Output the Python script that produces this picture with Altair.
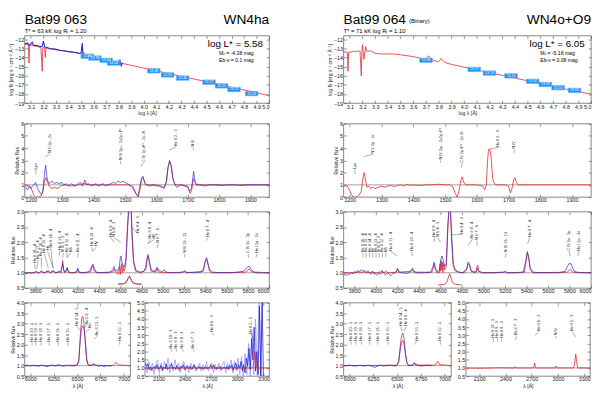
import altair as alt
import pandas as pd

FONT = "Liberation Sans"
RED = "#e8262d"
BLUE = "#2626c8"
LBLUE = "#8c8cff"
BOXC = "#1f8ff0"
INK = "#222222"

# ======================= Bat99 063 =======================
sed63_model = [(3.05,-12.5),(3.07,-12.55),(3.08,-12.6),(3.085,-14.6),(3.09,-12.6),(3.1,-12.65),(3.12,-12.7),
               (3.15,-12.8),(3.18,-12.88),(3.19,-15.5),(3.195,-12.9),(3.2,-12.9),(3.21,-12.95),(3.215,-14.0),
               (3.22,-12.95),(3.23,-13.0),(3.25,-13.05),(3.3,-13.15),(3.35,-13.25),(3.4,-13.35),(3.45,-13.45),
               (3.5,-13.58),(3.55,-13.75),(3.6,-13.92),(3.65,-14.08),(3.7,-14.25),(3.75,-14.4),(3.8,-14.55),
               (3.85,-14.7),(3.9,-14.85),(4.0,-15.15),(4.1,-15.45),(4.2,-15.75),(4.3,-16.05),(4.4,-16.35),
               (4.5,-16.65),(4.6,-16.95),(4.7,-17.25),(4.8,-17.55),(4.9,-17.85),(5.0,-18.2)]
sed63_obs = [(3.05,-12.45),(3.06,-12.5),(3.07,-12.4),(3.08,-12.55),(3.09,-12.6),(3.1,-12.5),(3.11,-12.3),
             (3.12,-12.6),(3.13,-12.7),(3.15,-12.65),(3.17,-12.8),(3.19,-12.75),(3.2,-12.2),(3.21,-12.85),
             (3.23,-12.9),(3.25,-13.0),(3.28,-13.05),(3.3,-13.1),(3.33,-13.2),(3.36,-13.25),(3.4,-13.35),
             (3.43,-13.4),(3.46,-13.45),(3.49,-13.55),(3.5,-13.5),(3.51,-12.4),(3.515,-13.7),(3.52,-13.5),
             (3.53,-13.7),(3.55,-13.8),(3.57,-13.9),(3.6,-14.0),(3.62,-14.05),(3.64,-14.15),(3.66,-14.2),
             (3.68,-14.3),(3.7,-14.3),(3.72,-14.4),(3.74,-14.45),(3.76,-14.55),(3.78,-14.55),(3.8,-14.65),
             (3.81,-14.3),(3.82,-14.9),(3.83,-14.6)]
sed63_phot_logl = [3.55, 3.61, 3.70, 3.76, 4.08, 4.19, 4.31, 4.52, 4.62, 4.72, 4.86]
sed63_phot_flux = [-13.85, -14.05, -14.3, -14.6, -15.45, -15.9, -16.25, -16.7, -17.1, -17.5, -17.95]
sed63_phot_text = ["13.66", "13.78", "13.93", "14.04", "13.49", "13.53", "13.40", "13.21", "13.25", "13.23", "13.18"]

uv63_model = [(1180,1.0),(1195,0.9),(1205,0.5),(1210,0.1),(1215,0.0),(1225,0.0),(1232,0.1),(1238,0.4),(1243,1.2),
              (1247,1.6),(1252,1.3),(1258,0.9),(1265,0.7),(1275,0.8),(1285,0.7),(1295,0.9),(1310,1.0),(1330,0.9),
              (1350,1.0),(1370,1.1),(1390,1.0),(1420,1.0),(1450,1.0),(1480,1.0),(1510,1.0),(1525,0.9),(1535,0.3),
              (1542,0.0),(1548,0.6),(1553,1.5),(1558,1.6),(1565,1.0),(1575,1.0),(1600,1.0),(1615,0.9),(1625,0.7),
              (1632,1.2),(1638,2.5),(1643,2.9),(1648,2.5),(1654,1.4),(1660,1.0),(1680,1.0),(1700,0.9),(1708,0.3),
              (1713,0.6),(1718,1.5),(1722,1.3),(1728,1.0),(1760,1.0),(1800,1.0),(1850,1.0),(1900,1.0),(1960,1.0)]
uv63_obs = [(1180,0.8),(1190,0.6),(1195,0.9),(1200,0.7),(1205,0.9),(1210,1.0),(1215,1.2),(1220,0.8),(1228,0.4),
            (1234,0.2),(1238,0.5),(1243,1.8),(1247,2.6),(1252,1.5),(1257,1.1),(1262,1.2),(1268,1.3),(1275,1.1),
            (1282,1.2),(1290,1.1),(1298,1.2),(1305,1.0),(1312,1.1),(1320,0.9),(1328,1.1),(1335,1.0),(1342,0.9),
            (1350,1.1),(1358,1.2),(1365,0.9),(1372,1.4),(1378,1.0),(1385,1.1),(1392,0.9),(1400,1.0),(1408,1.1),
            (1415,0.9),(1422,1.0),(1430,1.1),(1438,0.9),(1446,1.0),(1455,1.1),(1463,1.2),(1470,1.1),(1478,1.3),
            (1486,1.2),(1494,1.3),(1500,1.2),(1508,1.1),(1515,1.0),(1522,0.8),(1530,0.5),(1537,0.2),(1542,0.1),
            (1547,0.8),(1553,1.5),(1557,1.7),(1563,1.2),(1570,1.0),(1580,0.9),(1590,1.0),(1600,0.9),(1610,0.9),
            (1618,0.8),(1625,0.8),(1632,1.3),(1637,2.4),(1642,3.0),(1647,2.6),(1652,1.6),(1658,1.1),(1665,0.8),
            (1672,0.9),(1680,1.0),(1690,0.9),(1700,0.8),(1706,0.5),(1711,0.6),(1716,1.4),(1719,2.1),(1723,1.3),
            (1728,1.0),(1740,1.0),(1755,0.9),(1770,1.0),(1790,1.0),(1810,0.95),(1830,1.0),(1850,1.0),(1870,0.95),
            (1890,1.0),(1910,1.0),(1930,1.0),(1960,1.0)]
uv63_labels = [(1216,1216,1.85,2.2,"Lyα"),(1245,1262,3.3,3.55,"N V 2p - 2s"),
               (1486,1486,2.7,2.95,"N IV 2p² - 2s2p ¹P°"),(1550,1560,2.5,2.8,"C IV 2p ²P° - 2s ²S"),
               (1642,1662,3.85,4.1,"He II 2 - 3"),(1718,1718,3.85,4.05,"N IV")]

opt63_model = [(3700,1.0),(3800,1.0),(3813,1.03),(3830,1.0),(3858,1.04),(3880,1.0),(3923,1.05),(3940,1.0),(3968,1.05),
               (3990,1.0),(4026,1.03),(4040,1.0),(4052,1.2),(4058,1.4),(4066,1.1),(4080,1.0),(4100,1.15),(4112,1.0),
               (4190,1.02),(4200,1.1),(4212,1.0),(4320,1.03),(4340,1.25),(4355,1.05),(4375,1.0),(4530,1.03),(4542,1.12),
               (4555,1.02),(4585,0.95),(4595,1.2),(4602,0.95),(4610,1.3),(4618,1.0),(4626,1.25),(4635,1.05),(4650,1.2),
               (4665,2.4),(4680,3.2),(4700,3.2),(4712,2.1),(4725,1.3),(4745,1.05),(4800,1.0),(4840,1.1),(4852,1.45),
               (4862,1.55),(4875,1.3),(4890,1.05),(4935,1.03),(4945,1.15),(4957,1.03),(5000,1.0),(5195,1.02),(5205,1.05),
               (5215,1.0),(5380,1.05),(5400,1.4),(5412,1.45),(5425,1.25),(5440,1.05),(5460,1.0),(5780,1.02),(5800,1.1),
               (5815,1.12),(5830,1.03),(6000,1.0)]
opt63_obs = [(3700,1.0),(3720,0.97),(3740,1.02),(3760,0.98),(3780,1.0),(3800,1.03),(3813,1.05),(3830,0.98),(3858,1.06),
             (3880,1.0),(3900,1.03),(3923,1.07),(3940,1.0),(3968,1.08),(3990,1.0),(4010,1.02),(4026,1.05),(4040,1.02),
             (4058,1.3),(4070,1.05),(4085,1.02),(4100,1.18),(4115,1.03),(4140,1.0),(4170,1.0),(4190,1.05),(4200,1.15),
             (4212,1.03),(4240,1.0),(4280,1.0),(4310,1.05),(4330,1.2),(4342,1.28),(4355,1.15),(4375,1.02),(4420,1.0),
             (4480,1.0),(4510,1.03),(4530,1.12),(4542,1.2),(4555,1.08),(4575,1.05),(4590,1.2),(4600,1.5),(4606,1.55),
             (4615,1.35),(4625,1.25),(4640,1.2),(4655,1.5),(4668,2.4),(4680,3.2),(4700,3.2),(4712,2.2),(4725,1.4),
             (4745,1.1),(4780,1.02),(4820,1.05),(4840,1.2),(4852,1.5),(4862,1.6),(4875,1.35),(4890,1.1),(4910,1.05),
             (4930,1.08),(4945,1.18),(4960,1.1),(4980,1.05),(5000,1.05),(5012,1.1),(5025,1.03),(5080,1.0),(5150,1.0),
             (5190,1.03),(5205,1.07),(5220,1.02),(5300,1.0),(5360,1.02),(5385,1.15),(5400,1.42),(5412,1.5),(5425,1.3),
             (5440,1.1),(5470,1.02),(5550,1.0),(5650,1.0),(5700,1.02),(5760,1.05),(5785,1.15),(5800,1.2),(5815,1.2),
             (5830,1.12),(5850,1.03),(5880,1.0),(5920,1.0),(6000,1.0)]
opt63_inset_model = [(4580,0.62),(4630,0.63),(4655,0.67),(4672,0.8),(4686,0.9),(4700,0.8),(4716,0.67),(4750,0.63),(4800,0.62)]
opt63_inset_obs = [(4580,0.64),(4630,0.65),(4655,0.7),(4672,0.82),(4686,0.88),(4700,0.78),(4716,0.68),(4750,0.64),(4800,0.63)]
opt63_labels = [(3797,3796,1.12,1.3,"He II 18 - 4"),(3813,3826,1.12,1.42,"He II 17 - 4"),(3858,3856,1.15,1.52,"He II 16 - 4"),
                (3923,3886,1.15,1.62,"He II 15 - 4"),(3968,3916,1.15,1.72,"Hε"),(3968,3946,1.15,1.8,"He II 14 - 4"),
                (4026,4029,1.55,1.72,"He II 13 - 4"),(4058,4065,1.5,1.65,"N IV 3 - 3"),(4100,4098,1.5,1.65,"He II 12 - 4"),
                (4101,4134,1.5,1.65,"Hδ"),(4200,4204,1.5,1.65,"He II 11 - 4"),(4339,4331,1.7,1.85,"He II 10 - 4"),
                (4340,4376,1.7,1.85,"Hγ"),(4542,4512,2.0,2.15,"He II 9 - 4"),(4604,4542,2.0,2.15,"N V 4 - 3"),
                (4705,4768,2.5,2.28,"He II 4 - 3"),(4859,4883,1.95,2.1,"He II 8 - 4"),(4861,4920,1.95,2.1,"Hβ"),
                (4945,4956,1.8,1.95,"N V 7 - 6"),(5204,5207,1.5,1.62,"N IV 16 - 13"),(5411,5421,2.05,2.15,"He II 7 - 4"),
                (5806,5802,1.5,1.62,"C IV 3s - 3p"),(5876,5886,1.5,1.62,"He I 2p - 3d")]

ha63_model = [(5940,1.0),(6400,1.0),(6420,1.02),(6500,1.02),(6520,1.2),(6535,2.4),(6550,3.25),(6562,3.35),(6575,3.0),
              (6590,2.0),(6605,1.2),(6620,1.02),(6670,1.02),(6683,1.08),(6695,1.02),(6880,1.0),(6900,1.05),(6915,1.15),
              (6930,1.1),(6945,1.03),(7070,1.0)]
ha63_obs = [(5940,1.0),(5970,1.02),(6000,0.98),(6030,1.02),(6060,1.0),(6090,0.97),(6120,1.03),(6150,1.0),(6180,0.95),
            (6210,1.0),(6240,1.03),(6270,0.98),(6300,1.05),(6330,1.0),(6360,0.97),(6390,1.02),(6420,1.0),(6450,0.98),
            (6480,1.0),(6505,1.05),(6520,1.3),(6535,2.2),(6548,2.75),(6560,2.9),(6575,2.8),(6590,2.2),(6602,1.4),
            (6615,1.1),(6630,1.0),(6660,1.02),(6683,1.1),(6700,1.02),(6730,0.97),(6760,1.0),(6790,0.95),(6820,1.0),
            (6850,0.98),(6870,1.0)]
ha63_labels = [(6020,6020,1.95,2.1,"He II 20 - 5"),(6060,6060,1.95,2.1,"He II 19 - 5"),(6115,6115,1.95,2.1,"He II 18 - 5"),
               (6205,6205,1.95,2.1,"He II 17 - 5"),(6300,6300,1.95,2.1,"He II 16 - 5"),(6405,6405,1.95,2.1,"He II 15 - 5"),
               (6527,6505,2.7,2.85,"He II 14 - 5"),(6575,6605,2.8,2.92,"He II 6 - 4"),(6590,6640,2.6,2.75,"Hα"),
               (6683,6712,2.25,2.4,"He II 13 - 5"),(6957,6957,2.0,2.15,"He II 12 - 5")]

ir63_model = [(1946,1.0),(2500,1.0),(2511,1.05),(2520,1.0),(2720,1.0),(2733,1.2),(2745,1.0),(3180,1.0),(3195,1.6),
              (3203,2.0),(3212,1.5),(3225,1.0),(3366,1.0)]
ir63_obs_start, ir63_obs_step = 1950, 15
ir63_obs = [1.3,1.1,1.25,0.9,1.05,0.85,1.0,1.1,0.95,1.2, 0.9,1.0,1.15,0.85,1.05,0.95,1.25,0.9,1.0,1.1,
            1.3,0.95,1.05,0.9,1.15,1.0,0.85,1.1,1.0,1.2, 0.9,1.05,1.15,0.95,1.1,0.9,1.0,1.2,1.05,0.9,
            1.0,1.1,0.95,1.05,0.9,1.0,1.1,0.95,1.0,1.05, 1.2,0.95,1.15,1.0,0.9,1.05,0.95,1.1,0.9,1.0,
            1.05,0.95,1.1,0.9,1.15,1.0,1.2,0.85,1.1,1.3, 0.9,1.2,1.0,1.4,0.8,1.2,0.7,1.6,1.1,2.2,
            0.9,2.8,1.5,3.5,0.8,2.0,0.6,4.8,0.5,5.2, 0.5]
ir63_raw_start, ir63_raw_step = 1950, 20
ir63_raw = [1.6,0.7,1.4,0.8,1.3,0.6,1.2,1.5,0.7,1.3,0.8,1.4,0.9,1.6,0.7,1.2,0.8,1.5,0.9,1.3,0.7,1.2,1.4,0.8,
            1.1,0.7,1.3,0.9,1.2,0.8,1.1,1.3,0.8,1.2,0.9,1.4,0.8,1.1,1.3,0.7,1.2,0.9,1.3,0.8,1.2,1.4,0.7,1.3,
            0.9,1.5,0.7,1.4,0.8,1.6,0.6,1.7,0.5,1.9,0.6,2.5,0.5,3.2,0.6,4.0,0.5,5.5,0.5,5.5]
ir63_labels = [(2253,2249,2.0,2.15,"He II 10 - 3"),(2306,2305,2.0,2.15,"He II 9 - 3"),(2385,2371,2.0,2.15,"He II 8 - 3"),
               (2511,2493,2.0,2.15,"He II 7 - 3"),(2733,2715,3.0,3.15,"He II 6 - 3"),(3203,3160,2.7,3.05,"He II 5 - 3")]

# ======================= Bat99 064 =======================
sed64_model = [(3.05,-13.4),(3.07,-13.4),(3.08,-13.45),(3.085,-15.5),(3.09,-13.45),(3.1,-13.4),(3.12,-13.35),
               (3.15,-13.3),(3.18,-13.3),(3.19,-16.0),(3.195,-13.25),(3.2,-12.6),(3.205,-13.3),(3.21,-14.2),
               (3.22,-13.25),(3.225,-12.8),(3.23,-13.3),(3.25,-13.3),(3.27,-13.3),(3.29,-13.45),(3.3,-13.55),
               (3.35,-13.6),(3.4,-13.6),(3.45,-13.62),(3.5,-13.7),(3.55,-13.8),(3.6,-13.9),(3.65,-14.05),(3.7,-14.2),
               (3.72,-13.8),(3.75,-14.3),(3.8,-14.45),(3.82,-14.1),(3.85,-14.55),(3.9,-14.75),(4.0,-15.05),
               (4.1,-15.35),(4.2,-15.65),(4.3,-15.95),(4.4,-16.25),(4.5,-16.55),(4.6,-16.85),(4.7,-17.15),
               (4.8,-17.45),(4.9,-17.75),(5.0,-18.0)]
sed64_phot_logl = [3.70, 4.08, 4.20, 4.37, 4.54, 4.64, 4.74, 4.87]
sed64_phot_flux = [-14.3, -15.3, -15.7, -16.0, -16.6, -16.95, -17.3, -17.6]
sed64_phot_text = ["12.94", "13.12", "13.19", "13.24", "13.32", "13.16", "13.10", "13.05"]

uv64_model = [(1180,1.0),(1192,0.9),(1198,0.6),(1205,0.2),(1210,0.0),(1222,0.0),(1230,0.2),(1236,0.5),(1241,1.5),
              (1245,2.0),(1249,1.4),(1254,0.8),(1260,0.9),(1265,0.7),(1272,0.8),(1280,0.7),(1290,0.8),(1300,0.9),
              (1310,0.8),(1320,0.9),(1330,0.95),(1340,0.85),(1350,0.95),(1360,1.0),(1370,0.9),(1380,1.05),(1390,0.95),
              (1400,1.0),(1420,0.95),(1440,1.0),(1460,1.0),(1480,1.05),(1500,1.0),(1515,1.0),(1525,0.8),(1532,0.3),
              (1538,0.0),(1544,0.5),(1550,1.4),(1554,1.65),(1559,1.2),(1565,1.0),(1600,1.0),(1618,0.9),(1625,0.6),
              (1630,1.0),(1634,3.0),(1637,3.9),(1642,3.9),(1646,3.0),(1650,1.5),(1655,1.1),(1662,1.0),(1690,1.0),
              (1700,0.9),(1706,0.35),(1711,0.7),(1716,1.4),(1720,1.6),(1725,1.2),(1730,1.0),(1800,1.0),(1900,1.0),
              (1960,1.0)]
uv64_labels = [(1216,1216,1.9,2.25,"Lyα"),(1243,1272,3.3,3.5,"N V 2p - 2s"),(1486,1486,2.8,3.0,"N IV 2p² - 2s2p ¹P°"),
               (1550,1555,2.4,2.75,"C IV 2p ²P° - 2s ²S"),(1642,1668,3.95,4.05,"He II 2 - 3"),(1718,1718,3.6,3.9,"N IV")]

opt64_model = [(3700,1.0),(3800,1.0),(3835,1.03),(3860,1.0),(3890,1.03),(3920,1.0),(3970,1.03),(4000,1.0),(4045,1.03),
               (4058,1.08),(4070,1.0),(4100,1.05),(4115,1.0),(4190,1.02),(4200,1.15),(4212,1.02),(4330,1.05),(4340,1.12),
               (4352,1.02),(4520,1.02),(4535,1.15),(4542,1.28),(4550,1.15),(4565,1.02),(4590,1.0),(4598,1.3),(4603,1.05),
               (4608,1.4),(4613,1.1),(4618,1.35),(4623,1.0),(4630,1.3),(4640,1.1),(4655,1.2),(4670,2.5),(4682,3.2),
               (4692,3.2),(4705,2.0),(4720,1.2),(4740,1.05),(4800,1.0),(4845,1.1),(4858,1.3),(4870,1.25),(4885,1.05),
               (4930,1.02),(4940,1.2),(4948,1.25),(4955,1.05),(5000,1.0),(5195,1.02),(5205,1.04),(5215,1.0),(5380,1.02),
               (5395,1.35),(5408,1.65),(5420,1.5),(5435,1.1),(5460,1.0),(5780,1.02),(5800,1.1),(5815,1.1),(5830,1.02),
               (6000,1.0)]
opt64_obs = [(3700,0.92),(3715,0.95),(3730,0.9),(3745,0.97),(3760,0.95),(3775,1.0),(3790,0.97),(3805,1.05),(3820,1.0),
             (3835,1.08),(3850,1.02),(3865,1.1),(3880,1.05),(3895,1.08),(3910,1.0),(3925,1.07),(3940,1.0),(3955,0.95),
             (3970,1.05),(3985,0.95),(4000,0.98),(4015,0.92),(4030,1.0),(4045,0.95),(4060,1.05),(4075,0.98),(4090,0.93),
             (4105,1.0),(4120,0.97),(4140,0.9),(4160,0.98),(4180,1.0),(4195,1.08),(4205,1.12),(4215,1.03),(4240,1.0),
             (4280,0.98),(4310,1.0),(4330,1.1),(4342,1.15),(4355,1.05),(4380,1.0),(4450,1.0),(4510,1.02),(4530,1.2),
             (4542,1.35),(4555,1.15),(4575,1.02),(4590,1.1),(4605,1.45),(4615,1.55),(4625,1.45),(4640,1.2),(4655,1.3),
             (4670,2.6),(4682,3.2),(4692,3.2),(4705,2.2),(4720,1.3),(4740,1.1),(4770,1.02),(4820,1.0),(4845,1.15),
             (4858,1.35),(4870,1.3),(4885,1.1),(4910,1.0),(4935,1.05),(4945,1.15),(4955,1.05),(4990,1.0),(5100,1.0),
             (5190,1.02),(5205,1.05),(5220,1.0),(5300,1.0),(5370,1.02),(5395,1.4),(5408,1.7),(5420,1.55),(5435,1.15),
             (5460,1.02),(5550,1.0),(5700,1.0),(5760,1.05),(5780,1.2),(5795,1.3),(5815,1.3),(5830,1.15),(5850,1.03),
             (5900,1.0),(6000,1.0)]
opt64_inset_model = [(4580,0.6),(4640,0.62),(4660,0.7),(4675,0.85),(4686,0.97),(4698,0.85),(4712,0.68),(4740,0.62),(4800,0.6)]
opt64_labels = [(3881,3881,1.5,1.65,"He II 16 - 4"),(3911,3911,1.5,1.65,"He II 15 - 4"),(3942,3942,1.5,1.65,"He II 14 - 4"),
                (3972,3972,1.5,1.65,"Hε"),(4002,4002,1.5,1.65,"He II 13 - 4"),(4032,4032,1.5,1.65,"N IV 3 - 3"),
                (4062,4062,1.5,1.65,"He II 12 - 4"),(4092,4092,1.5,1.65,"Hδ"),(4200,4138,1.55,1.7,"He II 11 - 4"),
                (4339,4334,1.55,1.7,"He II 10 - 4"),(4542,4545,2.0,2.15,"He II 9 - 4"),(4604,4575,2.0,2.15,"N V 4 - 3"),
                (4700,4801,2.25,2.25,"He II 4 - 3"),(4859,4898,1.9,2.1,"He II 8 - 4"),(4945,4937,1.9,2.05,"N V 7 - 6"),
                (5204,5209,1.5,1.65,"N IV 16 - 13"),(5411,5429,1.95,2.15,"He II 7 - 4"),(5806,5797,1.55,1.7,"C IV 3s - 3p"),
                (5876,5888,1.55,1.7,"He I 2p - 3d")]

ha64_model = [(5940,1.0),(6500,1.02),(6520,1.2),(6535,1.9),(6550,2.45),(6562,2.55),(6575,2.3),(6590,1.6),(6605,1.15),
              (6620,1.02),(6670,1.03),(6685,1.12),(6700,1.03),(6900,1.02),(6915,1.12),(6930,1.2),(6945,1.05),(7070,1.0)]
ha64_obs = [(5940,1.02),(5970,1.0),(6000,1.03),(6030,1.0),(6060,0.98),(6090,1.0),(6120,1.02),(6150,0.97),(6180,1.0),
            (6210,1.02),(6240,0.96),(6270,0.92),(6300,0.98),(6330,1.02),(6360,0.98),(6390,1.0),(6420,1.02),(6450,1.0),
            (6480,0.98),(6505,1.05),(6520,1.2),(6535,1.75),(6550,2.1),(6562,2.2),(6575,2.05),(6590,1.55),(6605,1.15),
            (6620,1.02),(6650,1.0),(6670,1.05),(6685,1.15),(6700,1.05),(6730,1.0),(6760,0.98),(6790,1.0),(6820,1.02),
            (6850,1.0),(6870,1.0)]
ha64_labels = [(6019,6019,2.0,2.15,"He II 20 - 5"),(6070,6070,2.0,2.15,"He II 19 - 5"),(6128,6128,2.0,2.15,"He II 18 - 5"),
               (6214,6214,2.0,2.15,"He II 17 - 5"),(6300,6300,2.0,2.15,"He II 16 - 5"),(6409,6409,2.0,2.15,"He II 15 - 5"),
               (6555,6540,2.65,2.85,"He II 14 - 5"),(6570,6600,2.65,2.85,"He II 6 - 4"),(6683,6710,2.0,2.15,"He II 13 - 5"),
               (6957,6957,2.0,2.15,"He II 12 - 5")]

ir64_model = [(1946,1.0),(2100,0.98),(2250,1.0),(2300,1.01),(2500,1.0),(2511,1.08),(2520,1.0),(2720,1.0),(2733,1.3),
              (2745,1.0),(2970,1.0),(2980,1.12),(2990,1.0),(3180,1.0),(3195,1.5),(3203,1.85),(3212,1.4),(3225,1.0),(3366,1.0)]
ir64_labels = [(2262,2262,2.6,2.8,"He II 10 - 3"),(2307,2307,2.6,2.8,"He II 9 - 3"),(2356,2356,2.6,2.8,"He II 8 - 3"),
               (2511,2525,2.7,2.95,"He II 7 - 3"),(2733,2780,3.0,3.2,"He II 6 - 3"),(2975,2975,2.8,2.95,"N IV"),
               (3203,3163,2.9,3.2,"He II 5 - 3")]

# axis tick values
sed_xticks = [3.1,3.2,3.3,3.4,3.5,3.6,3.7,3.8,3.9,4.0,4.1,4.2,4.3,4.4,4.5,4.6,4.7,4.8,4.9,5.0]
sed_yticks = [-19,-18,-17,-16,-15,-14,-13,-12]
uv_xticks = [1200,1300,1400,1500,1600,1700,1800,1900]
uv_yticks = [0,1,2,3,4,5,6]
opt_xticks = [3800,4000,4200,4400,4600,4800,5000,5200,5400,5600,5800,6000]
opt_yticks = [0.5,1.0,1.5,2.0,2.5,3.0]
ha_xticks = [6000,6250,6500,6750,7000]
ha_yticks = [0.5,1.0,1.5,2.0,2.5,3.0,3.5,4.0]
ir_xticks = [2100,2400,2700,3000,3300]
ir_yticks = [0.5,1.0,1.5,2.0,2.5,3.0,3.5,4.0,4.5,5.0]


def pairs_df(p):
    return pd.DataFrame({"x": [a for a, _ in p], "y": [b for _, b in p]})


def grid_df(start, step, vals):
    return pd.DataFrame({"x": [start + step * i for i in range(len(vals))], "y": vals})


def L_line(df, color, w=0.8, op=1.0):
    def f(xs, ys):
        return alt.Chart(df).mark_line(color=color, strokeWidth=w, opacity=op, clip=True).encode(
            x=alt.X("x:Q", scale=xs, axis=None), y=alt.Y("y:Q", scale=ys, axis=None))
    return f


def L_hrule(val):
    df = pd.DataFrame({"y": [val]})
    def f(xs, ys):
        return alt.Chart(df).mark_rule(color="#444", strokeWidth=0.5).encode(y=alt.Y("y:Q", scale=ys, axis=None))
    return f


def L_labels(rows, fs=3.9):
    df = pd.DataFrame(rows, columns=["lx", "tx", "y0", "y1", "t"])
    def f(xs, ys):
        lead = alt.Chart(df).mark_rule(color="#333", strokeWidth=0.4).encode(
            x=alt.X("lx:Q", scale=xs, axis=None), y=alt.Y("y0:Q", scale=ys, axis=None), x2="tx:Q", y2="y1:Q")
        txt = alt.Chart(df).mark_text(angle=270, align="left", baseline="middle", fontSize=fs, font=FONT,
                                      color=INK, dx=0.8).encode(
            x=alt.X("tx:Q", scale=xs, axis=None), y=alt.Y("y1:Q", scale=ys, axis=None), text="t:N")
        return alt.layer(lead, txt)
    return f


def L_boxes(logl, flux, texts):
    df = pd.DataFrame({"x": logl, "y": flux, "t": texts})
    def f(xs, ys):
        pts = alt.Chart(df).mark_point(shape="M-1,-0.36L1,-0.36L1,0.36L-1,0.36Z", size=170, filled=True,
                                       fill=BOXC, stroke="#7cc0ff", strokeWidth=0.6, opacity=1).encode(
            x=alt.X("x:Q", scale=xs, axis=None), y=alt.Y("y:Q", scale=ys, axis=None))
        txt = alt.Chart(df).mark_text(fontSize=3.6, color="white", font=FONT).encode(
            x=alt.X("x:Q", scale=xs, axis=None), y=alt.Y("y:Q", scale=ys, axis=None), text="t:N")
        return alt.layer(pts, txt)
    return f


def L_text(x, y, t, fs, align="left"):
    df = pd.DataFrame({"x": [x], "y": [y], "t": [t]})
    def f(xs, ys):
        return alt.Chart(df).mark_text(fontSize=fs, font=FONT, color="black", align=align, baseline="middle").encode(
            x=alt.X("x:Q", scale=xs, axis=None), y=alt.Y("y:Q", scale=ys, axis=None), text="t:N")
    return f


def L_pixtext(px, py, t, fs, align="left"):
    df = pd.DataFrame({"t": [t]})
    def f(xs, ys):
        return alt.Chart(df).mark_text(fontSize=fs, font=FONT, color="black", align=align,
                                       baseline="alphabetic").encode(x=alt.value(px), y=alt.value(py), text="t:N")
    return f


def panel(layers, xdom, ydom, xvals, yvals, w, h, xfmt, yfmt, xtitle=None, ytitle=None):
    xs = alt.Scale(domain=xdom, nice=False, zero=False)
    ys = alt.Scale(domain=ydom, nice=False, zero=False)
    common = dict(offset=-3, tickSize=3, domain=False, grid=False, labelOverlap=False)
    fdf = pd.DataFrame({"x": [xdom[0]], "y": [ydom[0]]})
    frame = alt.Chart(fdf).mark_point(opacity=0).encode(
        x=alt.X("x:Q", scale=xs, axis=alt.Axis(values=xvals, format=xfmt, title=xtitle, **common)),
        y=alt.Y("y:Q", scale=ys, axis=alt.Axis(values=yvals, format=yfmt, title=ytitle, **common)))
    frame2 = alt.Chart(fdf).mark_point(opacity=0).encode(
        x=alt.X("x:Q", scale=xs, axis=alt.Axis(values=xvals, orient="top", labels=False, title=None, **common)),
        y=alt.Y("y:Q", scale=ys, axis=alt.Axis(values=yvals, orient="right", labels=False, title=None, **common)))
    ch = alt.layer(frame, frame2, *[L(xs, ys) for L in layers]).resolve_axis(x="independent", y="independent")
    return ch.properties(width=w, height=h)


W_L, W_R = 250, 253
H_SED, H_UV, H_OPT, H_BOT = 69, 75, 78, 75
YT_SED = "log fλ [erg s⁻¹ cm⁻² Å⁻¹]"

# ---------------- left column ----------------
sed_l = panel([L_line(pairs_df(sed63_model), RED, 0.8), L_line(pairs_df(sed63_obs), BLUE, 1.1),
               L_boxes(sed63_phot_logl, sed63_phot_flux, sed63_phot_text),
               L_text(4.95, -12.55, "log L* = 5.58", 10, "right"),
               L_text(4.6, -13.5, "Mᵥ = -4.38 mag", 5.2), L_text(4.6, -14.3, "Eb-v = 0.1 mag", 5.2),
               L_pixtext(0, -12, "Bat99 063", 14), L_pixtext(0, -3, "T* = 63 kK   log Rₜ = 1.20", 6),
               L_pixtext(W_L, -12, "WN4ha", 14, "right")],
              [3.05, 5.0], [-19, -11.6], sed_xticks, sed_yticks, W_L, H_SED, ".1f", "d",
              xtitle="log λ [Å]", ytitle=YT_SED)
uv_l = panel([L_hrule(1), L_line(pairs_df(uv63_model), RED, 0.8), L_line(pairs_df(uv63_obs), BLUE, 0.8, 0.85),
              L_labels(uv63_labels)],
             [1180, 1960], [0, 6], uv_xticks, uv_yticks, W_L, H_UV, "d", "d", ytitle="Relative flux")
opt_l = panel([L_hrule(1), L_line(pairs_df(opt63_model), RED, 0.8), L_line(pairs_df(opt63_obs), BLUE, 0.8, 0.85),
               L_line(pairs_df(opt63_inset_model), RED, 0.7), L_line(pairs_df(opt63_inset_obs), BLUE, 0.7, 0.85),
               L_labels(opt63_labels)],
              [3700, 6000], [0.5, 3.0], opt_xticks, opt_yticks, W_L, H_OPT, "d", ".1f", ytitle="Relative flux")
ha_l = panel([L_hrule(1), L_line(pairs_df(ha63_model), RED, 0.8), L_line(pairs_df(ha63_obs), BLUE, 0.8, 0.85),
              L_labels(ha63_labels)],
             [5940, 7070], [0.5, 4.0], ha_xticks, ha_yticks, 108, H_BOT, "d", ".1f",
             xtitle="λ [Å]", ytitle="Relative flux")
ir_l = panel([L_line(grid_df(ir63_raw_start, ir63_raw_step, ir63_raw), LBLUE, 0.7),
              L_line(grid_df(ir63_obs_start, ir63_obs_step, ir63_obs), BLUE, 0.8),
              L_hrule(1), L_line(pairs_df(ir63_model), RED, 0.8), L_labels(ir63_labels)],
             [1946, 3366], [0.5, 5.0], ir_xticks, ir_yticks, 127, H_BOT, "d", ".1f", xtitle="λ [Å]")

# ---------------- right column ----------------
sed_r = panel([L_line(pairs_df(sed64_model), RED, 0.8),
               L_boxes(sed64_phot_logl, sed64_phot_flux, sed64_phot_text),
               L_text(4.95, -12.55, "log L* = 6.05", 10, "right"),
               L_text(4.6, -13.5, "Mᵥ = -5.18 mag", 5.2), L_text(4.6, -14.3, "Eb-v = 0.08 mag", 5.2),
               L_pixtext(0, -12, "Bat99 064", 14), L_pixtext(67, -12.5, "(Binary)", 6),
               L_pixtext(0, -3, "T* = 71 kK   log Rₜ = 1.10", 6),
               L_pixtext(W_R, -12, "WN4o+O9", 14, "right")],
              [3.05, 5.0], [-19, -11.6], sed_xticks, sed_yticks, W_R, H_SED, ".1f", "d",
              xtitle="log λ [Å]", ytitle=YT_SED)
uv_r = panel([L_hrule(1), L_line(pairs_df(uv64_model), RED, 0.8), L_labels(uv64_labels)],
             [1180, 1960], [0, 6], uv_xticks, uv_yticks, W_R, H_UV, "d", "d", ytitle="Relative flux")
opt_r = panel([L_hrule(1), L_line(pairs_df(opt64_model), RED, 0.8), L_line(pairs_df(opt64_obs), BLUE, 0.8, 0.85),
               L_line(pairs_df(opt64_inset_model), "#b03030", 0.8), L_labels(opt64_labels)],
              [3700, 6000], [0.5, 3.0], opt_xticks, opt_yticks, W_R, H_OPT, "d", ".1f", ytitle="Relative flux")
ha_r = panel([L_hrule(1), L_line(pairs_df(ha64_model), RED, 0.8), L_line(pairs_df(ha64_obs), BLUE, 0.8, 0.85),
              L_labels(ha64_labels)],
             [5940, 7070], [0.5, 4.0], ha_xticks, ha_yticks, 110, H_BOT, "d", ".1f",
             xtitle="λ [Å]", ytitle="Relative flux")
ir_r = panel([L_hrule(1), L_line(pairs_df(ir64_model), RED, 0.8), L_labels(ir64_labels)],
             [1946, 3366], [0.5, 5.0], ir_xticks, ir_yticks, 127, H_BOT, "d", ".1f", xtitle="λ [Å]")

left = alt.vconcat(sed_l, uv_l, opt_l, alt.hconcat(ha_l, ir_l, spacing=5), spacing=5)
right = alt.vconcat(sed_r, uv_r, opt_r, alt.hconcat(ha_r, ir_r, spacing=5), spacing=5)

chart = alt.hconcat(left, right, spacing=58).properties(
    padding={"left": 0, "top": 0, "right": 0, "bottom": 0}
).configure_view(stroke="#333333", strokeWidth=0.6).configure_axis(
    labelFont=FONT, titleFont=FONT, labelFontSize=5.5, titleFontSize=5.2, titleFontWeight="normal",
    labelColor=INK, titleColor=INK, tickColor="#333333", tickWidth=0.5, labelPadding=1, titlePadding=1
)

chart.save("out.html", embed_options={"renderer": "svg", "actions": False})
